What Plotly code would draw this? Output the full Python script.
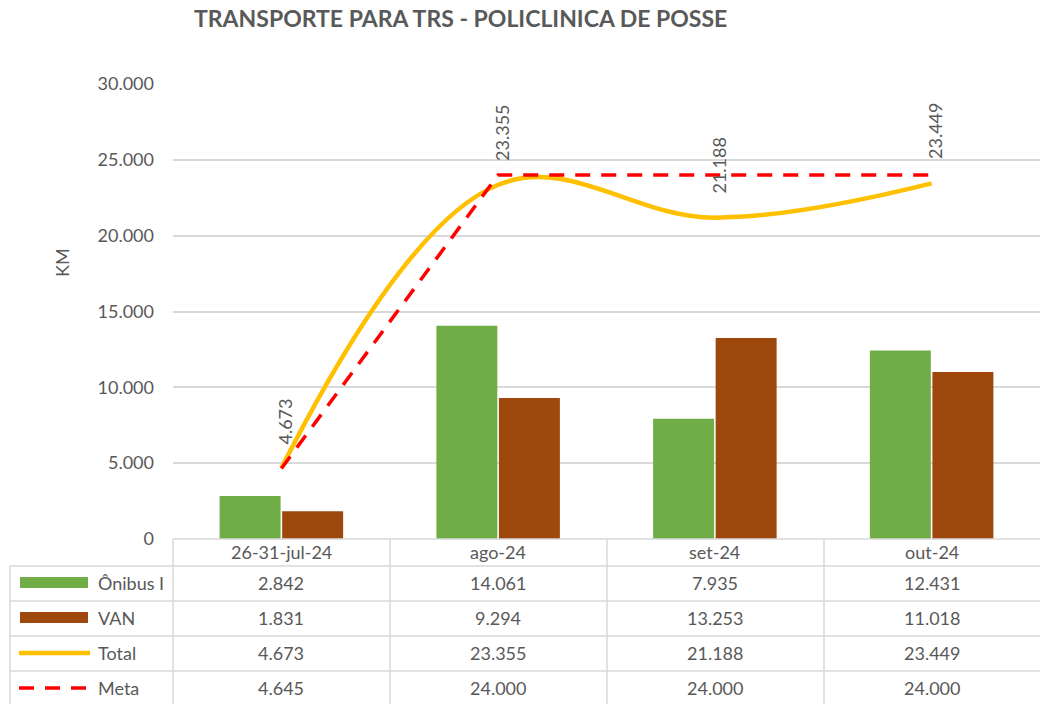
import plotly.graph_objects as go

categories = ["26-31-jul-24", "ago-24", "set-24", "out-24"]
onibus = [2842, 14061, 7935, 12431]
van = [1831, 9294, 13253, 11018]
total = [4673, 23355, 21188, 23449]
meta = [4645, 24000, 24000, 24000]
series_names = ["Ônibus I", "VAN", "Total", "Meta"]
title_text = "TRANSPORTE PARA TRS - POLICLINICA DE POSSE"
y_title = "KM"

W, H = 1040, 704
GREEN = "#70AD47"
BROWN = "#9E480E"
GOLD = "#FFC000"
RED = "#FF0000"
TXT = "#595959"
GRID = "#D9D9D9"
FONT = "Lato"

def px(x):
    return x / W

def py(y):
    return 1 - y / H

def fmt(v):
    return f"{v:,}".replace(",", ".")

fig = go.Figure()
fig.add_trace(go.Bar(x=categories, y=onibus, name=series_names[0], marker_color=GREEN, marker_line_width=0))
fig.add_trace(go.Bar(x=categories, y=van, name=series_names[1], marker_color=BROWN, marker_line_width=0))
fig.add_trace(go.Scatter(x=categories, y=total, name=series_names[2], mode="lines",
                         line=dict(color=GOLD, width=4.5, shape="spline", smoothing=1.1)))
fig.add_trace(go.Scatter(x=categories, y=meta, name=series_names[3], mode="lines",
                         line=dict(color=RED, width=3.5, dash="15px,11px")))

annotations = []
shapes = []

# data labels for Total (rotated)
for c, v in zip(categories, total):
    annotations.append(dict(x=c, y=v, xref="x", yref="y", text=fmt(v), showarrow=False,
                            textangle=-90, yanchor="bottom", xanchor="center", yshift=22, xshift=4,
                            font=dict(family=FONT, size=18, color=TXT)))

# title and axis title
annotations.append(dict(x=px(460), y=py(18), xref="paper", yref="paper", text=f"<b>{title_text}</b>",
                        showarrow=False, xanchor="center", yanchor="middle",
                        font=dict(family=FONT, size=23, color=TXT)))
annotations.append(dict(x=px(62), y=py(263), xref="paper", yref="paper", text=y_title,
                        showarrow=False, textangle=-90, xanchor="center", yanchor="middle",
                        font=dict(family=FONT, size=18, color=TXT)))

# table
row_lines = [566, 601, 636, 671]
row_centers = [583, 618, 653, 688]
header_center = 552
col_lines = [173, 390, 607, 824]

shapes.append(dict(type="line", xref="paper", yref="paper", x0=px(173), x1=1, y0=py(539), y1=py(539),
                   line=dict(color=GRID, width=1.5)))
for yl in row_lines:
    shapes.append(dict(type="line", xref="paper", yref="paper", x0=px(10), x1=1, y0=py(yl), y1=py(yl),
                       line=dict(color=GRID, width=1.5)))
shapes.append(dict(type="line", xref="paper", yref="paper", x0=px(10), x1=px(10), y0=py(566), y1=0,
                   line=dict(color=GRID, width=1.5)))
for xl in col_lines:
    shapes.append(dict(type="line", xref="paper", yref="paper", x0=px(xl), x1=px(xl), y0=py(539), y1=0,
                       line=dict(color=GRID, width=1.5)))

for c in categories:
    annotations.append(dict(x=c, y=py(header_center), xref="x", yref="paper", text=c, showarrow=False,
                            xanchor="center", yanchor="middle", font=dict(family=FONT, size=18, color=TXT)))

for series, rc in zip([onibus, van, total, meta], row_centers):
    for c, v in zip(categories, series):
        annotations.append(dict(x=c, y=py(rc), xref="x", yref="paper", text=fmt(v), showarrow=False,
                                xanchor="center", yanchor="middle", font=dict(family=FONT, size=18, color=TXT)))

for name, rc in zip(series_names, row_centers):
    annotations.append(dict(x=px(96), y=py(rc), xref="paper", yref="paper", text=name, showarrow=False,
                            xanchor="left", yanchor="middle", font=dict(family=FONT, size=18, color=TXT)))

# legend keys
shapes.append(dict(type="rect", xref="paper", yref="paper", x0=px(20), x1=px(88), y0=py(588), y1=py(577),
                   fillcolor=GREEN, line=dict(width=0)))
shapes.append(dict(type="rect", xref="paper", yref="paper", x0=px(20), x1=px(88), y0=py(623), y1=py(612),
                   fillcolor=BROWN, line=dict(width=0)))
shapes.append(dict(type="line", xref="paper", yref="paper", x0=px(19), x1=px(90), y0=py(653), y1=py(653),
                   line=dict(color=GOLD, width=4.5)))
shapes.append(dict(type="line", xref="paper", yref="paper", x0=px(19), x1=px(92), y0=py(688), y1=py(688),
                   line=dict(color=RED, width=3.5, dash="15px,11px")))

fig.update_layout(
    width=W, height=H,
    margin=dict(l=0, r=0, t=0, b=0),
    paper_bgcolor="white", plot_bgcolor="white",
    showlegend=False,
    barmode="group", bargap=0.423, bargroupgap=0.025,
    separators=",.",
    font=dict(family=FONT, size=18, color=TXT),
    annotations=annotations,
    shapes=shapes,
    xaxis=dict(domain=[px(173), 1], range=[-0.5, 3.5], showticklabels=False, showgrid=False,
               zeroline=False, showline=False, ticks="", automargin=False),
    yaxis=dict(domain=[py(539), py(84)], range=[0, 30000], dtick=5000, tickformat=",d",
               showgrid=True, gridcolor=GRID, gridwidth=1.5, zeroline=False, showline=False,
               ticks="", ticklabelstandoff=18, automargin=False,
               tickfont=dict(family=FONT, size=18, color=TXT)),
)

fig.write_html("out.html", config={"displayModeBar": False},
               post_script="document.body.style.margin='0';document.body.style.overflow='hidden';")
